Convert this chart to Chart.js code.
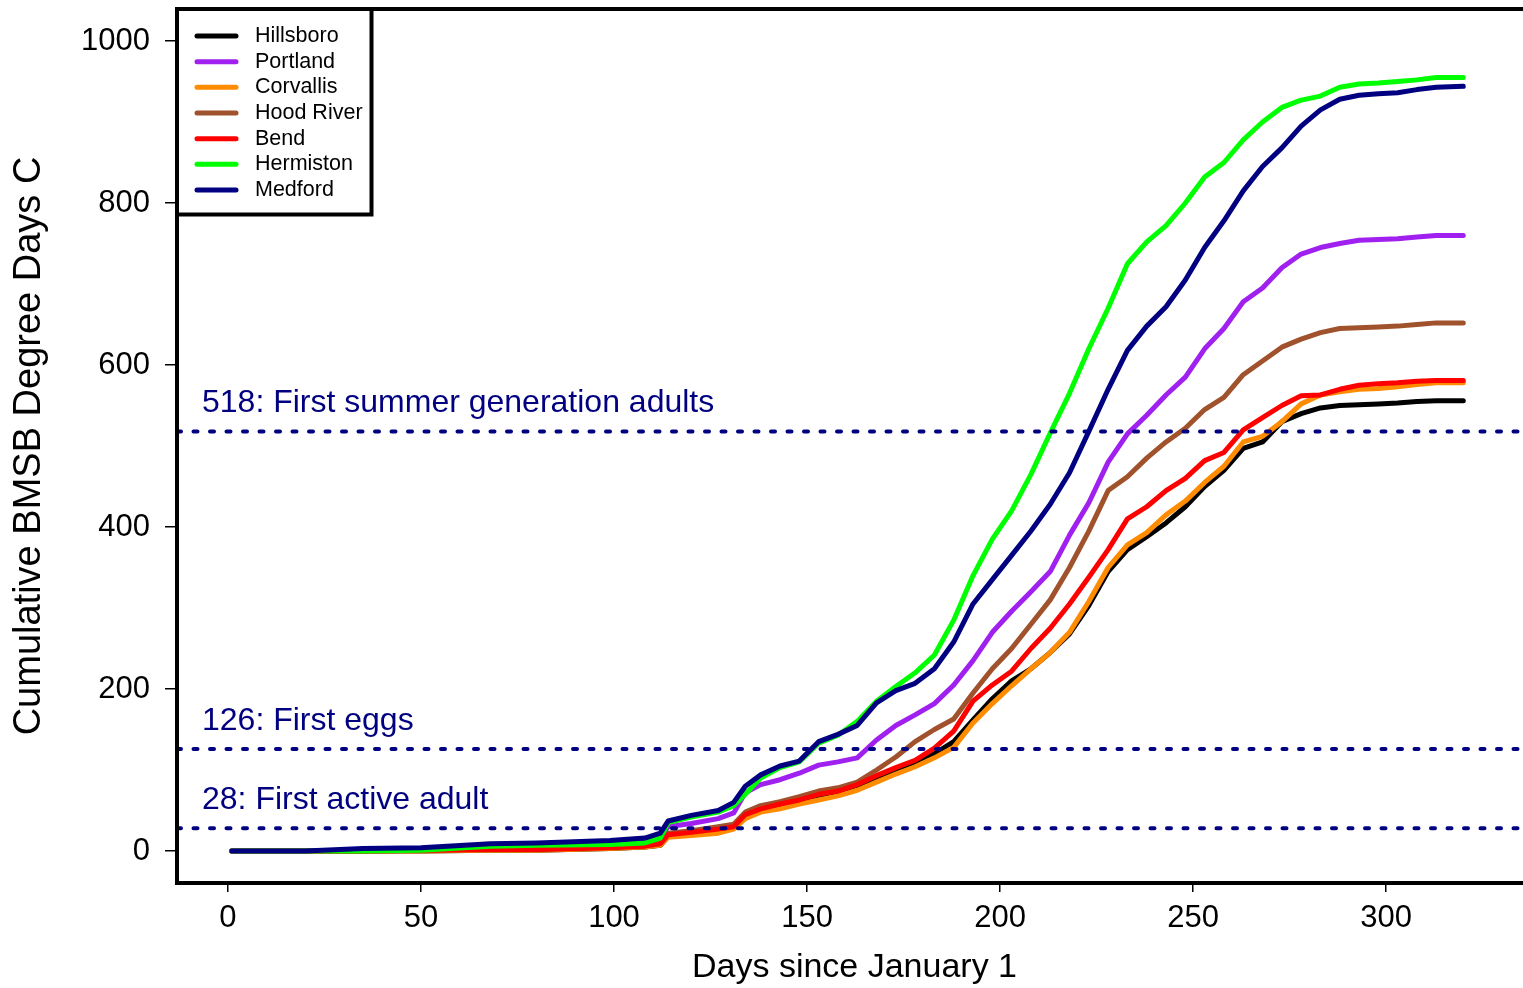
<!DOCTYPE html>
<html>
<head>
<meta charset="utf-8">
<script src="https://cdn.jsdelivr.net/npm/chart.js@4.4.1/dist/chart.umd.min.js"></script>
<style>
html,body{margin:0;padding:0;background:#fff;overflow:hidden;}
canvas{display:block;}
</style>
</head>
<body>
<canvas id="c" width="1560" height="988" style="width:1560px;height:988px"></canvas>
<script>
// ---- data ----
const days = [1, 20, 35, 50, 68, 80, 99, 108, 112, 114, 120, 127, 131, 134, 138, 143, 148, 153, 158, 163, 168, 173, 178, 183, 188, 193, 198, 203, 208, 213, 218, 223, 228, 233, 238, 243, 248, 253, 258, 263, 268, 273, 278, 283, 288, 293, 298, 303, 308, 313, 320];
const hillsboro = [0, 0, 0, 0, 1, 1, 3, 5, 7, 18, 20, 23, 28, 42, 50, 54, 60, 65, 70, 78, 88, 98, 107, 120, 135, 162, 188, 210, 225, 245, 268, 303, 345, 372, 388, 405, 425, 450, 470, 497, 505, 530, 540, 547, 550, 551, 552, 553, 555, 556, 556];
const portland = [0, 0, 1, 2, 3, 4, 8, 12, 17, 30, 34, 40, 47, 72, 82, 88, 96, 106, 110, 115, 137, 155, 168, 182, 205, 235, 270, 296, 320, 345, 390, 430, 480, 515, 538, 563, 585, 620, 645, 678, 695, 720, 737, 745, 750, 754, 755, 756, 758, 760, 760];
const corvallis = [0, 0, 0, 0, 1, 1, 3, 5, 7, 17, 19, 22, 27, 40, 48, 52, 58, 63, 68, 75, 85, 95, 104, 115, 128, 158, 182, 204, 225, 245, 270, 308, 350, 378, 393, 415, 432, 455, 475, 505, 512, 530, 552, 563, 567, 570, 571, 573, 576, 578, 578];
const hoodRiver = [0, 0, 0, 1, 2, 2, 5, 8, 10, 22, 25, 30, 33, 48, 56, 61, 67, 74, 78, 85, 100, 116, 135, 150, 163, 195, 225, 250, 280, 310, 350, 395, 445, 462, 485, 505, 522, 545, 560, 588, 605, 622, 632, 640, 645, 646, 647, 648, 650, 652, 652];
const bend = [0, 0, 0, 1, 2, 2, 4, 6, 9, 20, 23, 27, 30, 45, 52, 58, 63, 70, 74, 82, 93, 103, 112, 127, 148, 185, 205, 222, 250, 275, 305, 338, 372, 410, 425, 445, 460, 482, 492, 520, 535, 550, 562, 563, 570, 575, 577, 578, 580, 581, 581];
const hermiston = [0, 0, 0, 1, 6, 7, 8, 10, 16, 35, 42, 48, 56, 70, 90, 103, 110, 133, 143, 160, 185, 203, 220, 242, 285, 340, 385, 420, 465, 516, 565, 620, 670, 725, 752, 772, 800, 832, 850, 878, 900, 918, 927, 932, 943, 947, 948, 950, 952, 955, 955];
const medford = [0, 0, 3, 4, 9, 10, 13, 16, 22, 37, 44, 50, 60, 80, 94, 105, 111, 135, 144, 155, 183, 198, 207, 225, 258, 305, 335, 365, 395, 428, 467, 518, 570, 618, 648, 672, 705, 745, 778, 815, 845, 868, 895, 915, 928, 933, 935, 936, 940, 943, 944];

const seriesNames = ['Hillsboro', 'Portland', 'Corvallis', 'Hood River', 'Bend', 'Hermiston', 'Medford'];
const seriesValues = [hillsboro, portland, corvallis, hoodRiver, bend, hermiston, medford];

const thresholdValues = [518, 126, 28];
const thresholdLabels = ['First summer generation adults', 'First eggs', 'First active adult'];

const xTicks = [0, 50, 100, 150, 200, 250, 300];
const yTicks = [0, 200, 400, 600, 800, 1000];

// ---- styling / layout ----
const FONT = '"Liberation Sans", Arial, Helvetica, sans-serif';
const seriesColors = ['#000000', '#A020F0', '#FF8C00', '#A0522D', '#FF0000', '#00FF00', '#000080'];
const NAVY = '#000080';
const X_MIN = -13.2, X_MAX = 337.8;
const Y_MIN = -39.5, Y_MAX = 1039.5;

const datasets = [];
seriesNames.forEach((name, i) => {
  datasets.push({
    label: name,
    isSeries: true,
    data: days.map((d, j) => ({x: d, y: seriesValues[i][j]})),
    borderColor: seriesColors[i],
    backgroundColor: seriesColors[i],
    borderWidth: 5,
    pointRadius: 0,
    tension: 0,
    borderJoinStyle: 'round',
    borderCapStyle: 'round',
    order: 10 - i
  });
});
thresholdValues.forEach((v, i) => {
  datasets.push({
    label: thresholdLabels[i],
    isSeries: false,
    data: [{x: X_MIN, y: v}, {x: X_MAX, y: v}],
    borderColor: NAVY,
    borderWidth: 4,
    borderDash: [4, 12.5],
    borderCapStyle: 'round',
    pointRadius: 0,
    order: 0
  });
});

const framePlugin = {
  id: 'frame',
  afterDraw(chart) {
    const {ctx, chartArea: a, scales: {y}} = chart;
    ctx.save();
    // threshold labels
    ctx.font = '32px ' + FONT;
    ctx.fillStyle = NAVY;
    ctx.textAlign = 'left';
    ctx.textBaseline = 'alphabetic';
    thresholdValues.forEach((v, i) => {
      ctx.fillText(v + ': ' + thresholdLabels[i], a.left + 25, y.getPixelForValue(v) - 19);
    });
    // plot frame
    ctx.lineWidth = 4;
    ctx.strokeStyle = '#000';
    ctx.strokeRect(a.left, a.top, a.right - a.left, a.bottom - a.top);
    // legend
    const lx = a.left, ly = a.top, lw = 194.5, lh = 205.5;
    ctx.fillStyle = '#fff';
    ctx.fillRect(lx, ly, lw, lh);
    ctx.strokeRect(lx, ly, lw, lh);
    ctx.font = '21.5px ' + FONT;
    ctx.textBaseline = 'middle';
    let row = 0;
    chart.data.datasets.forEach(ds => {
      if (!ds.isSeries) return;
      const ry = ly + 27 + row * 25.67;
      ctx.beginPath();
      ctx.lineWidth = 5;
      ctx.lineCap = 'round';
      ctx.strokeStyle = ds.borderColor;
      ctx.moveTo(lx + 20, ry);
      ctx.lineTo(lx + 59, ry);
      ctx.stroke();
      ctx.fillStyle = '#000';
      ctx.fillText(ds.label, lx + 78, ry);
      row++;
    });
    ctx.restore();
  }
};

new Chart(document.getElementById('c'), {
  type: 'line',
  data: {datasets},
  options: {
    responsive: false,
    animation: false,
    devicePixelRatio: 1,
    layout: {padding: {top: 9, right: 28, left: 0, bottom: 0}},
    plugins: {legend: {display: false}, tooltip: {enabled: false}},
    scales: {
      x: {
        type: 'linear',
        min: X_MIN, max: X_MAX,
        afterBuildTicks: s => { s.ticks = xTicks.map(v => ({value: v})); },
        afterFit: s => { s.height = 105; s.paddingLeft = 0; s.paddingRight = 0; },
        ticks: {font: {size: 31, family: FONT}, color: '#000', padding: 8, maxRotation: 0, autoSkip: false, callback: v => String(v)},
        grid: {drawOnChartArea: false, drawTicks: true, tickLength: 9, color: '#000', lineWidth: 1.5},
        border: {display: false},
        title: {display: true, text: 'Days since January 1', color: '#000', font: {size: 34, family: FONT}, padding: {top: 0, bottom: 0}}
      },
      y: {
        type: 'linear',
        min: Y_MIN, max: Y_MAX,
        afterBuildTicks: s => { s.ticks = yTicks.map(v => ({value: v})); },
        afterFit: s => { s.width = 177; s.paddingTop = 0; s.paddingBottom = 0; },
        ticks: {font: {size: 31, family: FONT}, color: '#000', padding: 15, autoSkip: false, callback: v => String(v)},
        grid: {drawOnChartArea: false, drawTicks: true, tickLength: 12, color: '#000', lineWidth: 1.5},
        border: {display: false},
        title: {display: true, text: 'Cumulative BMSB Degree Days C', color: '#000', font: {size: 38, family: FONT}, padding: {top: 7, bottom: 0}}
      }
    }
  },
  plugins: [framePlugin]
});
</script>
</body>
</html>
